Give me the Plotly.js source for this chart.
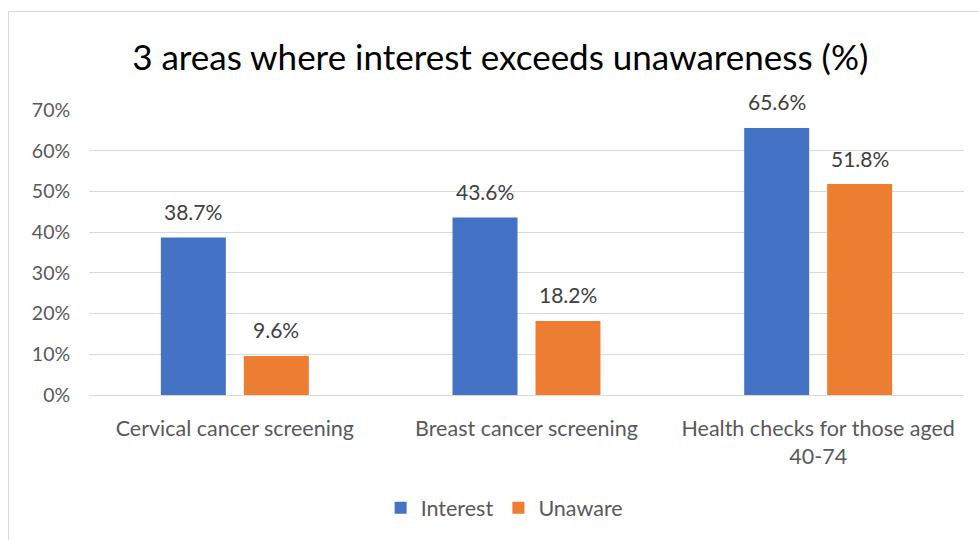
<!DOCTYPE html>
<html>
<head>
<meta charset="utf-8">
<script src="https://cdn.plot.ly/plotly-3.0.1.min.js"></script>
<style>
html,body{margin:0;padding:0;background:#fff;}
#frame{position:absolute;left:8px;top:11px;width:990px;height:560px;border:1px solid #d9d9d9;box-sizing:border-box;pointer-events:none;z-index:5;}
#chart{position:absolute;left:0;top:0;width:979px;height:540px;}
</style>
</head>
<body>
<div id="chart"></div>
<div id="frame"></div>
<script>
const categories = ["Cervical cancer screening", "Breast cancer screening", "Health checks for those aged<br>40-74"];
const interest = [38.7, 43.6, 65.6];
const unaware = [9.6, 18.2, 51.8];
const seriesNames = ["Interest", "Unaware"];
const colors = ["#4472C4", "#ED7D31"];

const fontFam = "Lato, 'Open Sans', sans-serif";
function mk(name, vals, color) {
  return {
    type: "bar", name: name, x: categories, y: vals,
    marker: {color: color},
    hoverinfo: "skip"
  };
}
const data = [mk(seriesNames[0], interest, colors[0]), mk(seriesNames[1], unaware, colors[1])];
const annotations = [];
[interest, unaware].forEach((vals, si) => {
  vals.forEach((v, i) => {
    annotations.push({
      x: categories[i], y: v, xref: "x", yref: "y",
      text: v.toFixed(1) + "%", showarrow: false,
      xanchor: "center", yanchor: "middle",
      xshift: si === 0 ? -41.5 : 41.5, yshift: 26,
      font: {family: fontFam, size: 21, color: "#404040"}
    });
  });
});
const layout = {
  width: 979, height: 540,
  margin: {l: 89, r: 15, t: 110, b: 142},
  paper_bgcolor: "rgba(0,0,0,0)", plot_bgcolor: "#fff",
  font: {family: fontFam, color: "#595959", size: 18},
  title: {text: "3 areas where interest exceeds unawareness (%)", font: {family: fontFam, size: 35, color: "#000"}, x: 0.511, xanchor: "center", y: 0.893, yanchor: "middle"},
  barmode: "group", bargap: 0.431, bargroupgap: 0.217,
  annotations: annotations,
  xaxis: {showline: true, linecolor: "#d9d9d9", linewidth: 1, ticks: "outside", ticklen: 14, tickcolor: "rgba(0,0,0,0)", tickfont: {size: 21.5, color: "#595959"}, showgrid: false},
  yaxis: {range: [0, 70], dtick: 10, ticksuffix: "%", showgrid: true, gridcolor: "#d9d9d9", gridwidth: 1, zeroline: false, tickfont: {size: 19.5, color: "#595959"}, ticks: "outside", ticklen: 14, tickcolor: "rgba(0,0,0,0)"},
  showlegend: true,
  legend: {orientation: "h", x: 0.475, xanchor: "center", y: -0.396, yanchor: "middle", font: {size: 21.5, color: "#595959"}, itemwidth: 30, traceorder: "normal"}
};
Plotly.newPlot("chart", data, layout, {displayModeBar: false, staticPlot: true});
</script>
</body>
</html>
